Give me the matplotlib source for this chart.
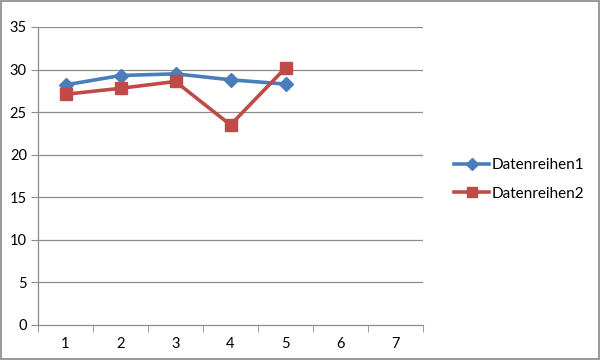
import matplotlib.pyplot as plt
from matplotlib.patches import Rectangle

categories = [1, 2, 3, 4, 5, 6, 7]
series1_x = [1, 2, 3, 4, 5]
series1 = [28.2, 29.3, 29.5, 28.8, 28.3]
series2_x = [1, 2, 3, 4, 5]
series2 = [27.1, 27.8, 28.6, 23.5, 30.2]
y_ticks = [0, 5, 10, 15, 20, 25, 30, 35]

plt.rcParams['font.family'] = ['Lato', 'DejaVu Sans']

fig = plt.figure(figsize=(6, 3.6), dpi=100)
ax = fig.add_axes([38 / 600, 1 - 325 / 360, (423 - 38) / 600, (325 - 27) / 360])

grid_col = '#8c8c8c'
for y in y_ticks[1:]:
    ax.axhline(y, color=grid_col, lw=0.9, zorder=0)

ax.plot(series1_x, series1, color='#4A7EBB', lw=2.6, marker='D', ms=7.5,
        label='Datenreihen1', zorder=3)
ax.plot(series2_x, series2, color='#BE4B48', lw=2.6, marker='s', ms=9,
        label='Datenreihen2', zorder=3)

ax.set_xlim(0.5, 7.5)
ax.set_ylim(0, 35)
ax.set_yticks(y_ticks)
ax.set_xticks(categories)
ax.set_xticks([c + 0.5 for c in [0] + categories], minor=True)
ax.tick_params(axis='x', which='major', length=0, pad=9, labelsize=10.5)
ax.tick_params(axis='x', which='minor', length=5, color=grid_col, direction='out')
ax.tick_params(axis='y', length=5, color=grid_col, labelsize=10.5, pad=3)

for side in ['top', 'right']:
    ax.spines[side].set_visible(False)
for side in ['left', 'bottom']:
    ax.spines[side].set_color(grid_col)
    ax.spines[side].set_linewidth(0.9)

ax.legend(loc='center left', bbox_to_anchor=(1.045, 0.488), frameon=False,
          fontsize=11, handlelength=2.3, labelspacing=0.95, handletextpad=0.15,
          markerscale=0.75)

fig.patches.append(Rectangle((0.0015, 0.0025), 0.997, 0.995, transform=fig.transFigure,
                             fill=False, edgecolor='#888888', lw=1.2))

fig.savefig('out.png', dpi=100)
